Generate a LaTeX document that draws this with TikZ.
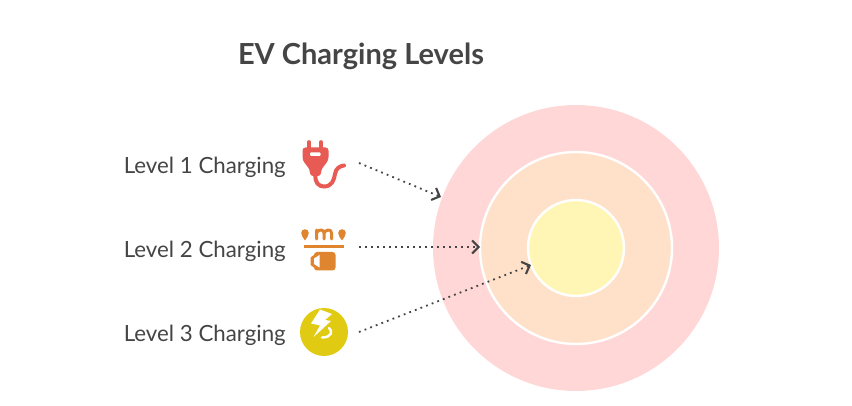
\documentclass[tikz,border=0pt]{standalone}
\usepackage{fontspec}
\setmainfont{Lato}
\usetikzlibrary{arrows.meta}
\definecolor{ink}{HTML}{454545}
\definecolor{ringa}{HTML}{FFD7D7}
\definecolor{ringb}{HTML}{FFE0C9}
\definecolor{ringc}{HTML}{FFF6B6}
\definecolor{plugred}{HTML}{E85A54}
\definecolor{battorange}{HTML}{E0852F}
\definecolor{boltyellow}{HTML}{E0CB12}
\tikzset{
  lvl/.style={anchor=east,inner sep=0pt,text=ink,font=\fontsize{22.3}{26}\selectfont},
  ttl/.style={anchor=center,inner sep=0pt,text=ink,font=\fontsize{29}{34}\selectfont\bfseries},
  ring/.style={circle,draw=white,line width=2.4pt,inner sep=0pt},
  link/.style={draw=ink,line width=1.8pt,dash pattern=on 1.8pt off 4.2pt,
    -{Straight Barb[length=6.5pt,width=13pt,line width=2.1pt]}},
}
\begin{document}
\begin{tikzpicture}[x=1pt,y=-1pt]
\useasboundingbox (0,0) rectangle (852,406);
\fill[white] (0,0) rectangle (852,406);
\node[ttl] (title) at (361,56) {EV Charging Levels};
\node[ring,fill=ringa,draw=none,minimum size=286pt] (outer) at (576,248) {};
\node[ring,fill=ringb,minimum size=192pt] (middle) at (576,248) {};
\node[ring,fill=ringc,minimum size=96pt] (inner) at (576,248) {};
\node[lvl] (l1) at (286,167) {Level 1 Charging};
\node[lvl] (l2) at (286,251) {Level 2 Charging};
\node[lvl] (l3) at (286,335) {Level 3 Charging};
% plug icon
\draw[plugred,line width=3.6pt,line cap=round] (309,142)--(309,150) (321,142)--(321,150);
\fill[plugred,rounded corners=3pt] (302.5,147.5)--(328.5,147.5)--(328.5,160)--(321,170)--(321,176)--(310,176)--(310,170)--(302.5,160)--cycle;
\fill[white,rounded corners=0.8pt] (310,152.5) rectangle (320.5,155.8);
\draw[plugred,line width=4pt,line cap=round] (315.5,174) .. controls (314.5,183) and (319,186.5) .. (324,186.5) .. controls (332,186.5) and (334,180) .. (335,174) .. controls (336,168) and (340,166) .. (344,165.5);
% battery icon
\fill[battorange] (305,240.5) .. controls (303.5,237.5) and (301.2,236.5) .. (301.2,233) arc[start angle=180,end angle=360,radius=3.8] .. controls (308.8,236.5) and (306.5,237.5) .. (305,240.5) -- cycle;
\fill[battorange] (342,240.5) .. controls (340.5,237.5) and (338.2,236.5) .. (338.2,233) arc[start angle=180,end angle=360,radius=3.8] .. controls (345.8,236.5) and (343.5,237.5) .. (342,240.5) -- cycle;
\draw[battorange,line width=3pt,line cap=round,line join=round] (316.5,239)--(316.5,230) (316.5,233) .. controls (318,229) and (324,229) .. (324,233)--(324,239) (324,233) .. controls (326,229) and (331.5,229) .. (331.5,233)--(331.5,239);
\draw[battorange,line width=3pt] (303.5,247)--(343.5,247);
\fill[battorange,rounded corners=3pt] (314,252) rectangle (335.5,270.5);
\fill[battorange] (310.5,257.5)--(316,253.5)--(316,269)--(310.5,265)--cycle;
\fill[white] (314,258.5)--(319.5,255)--(319.5,267.5)--(314,264)--cycle;
% bolt icon
\fill[boltyellow] (324,332) circle (24);
\fill[white] (320,309.5)--(332,314)--(325,320)--(331,321)--(313.5,337)--(320,325.5)--(311,323.5)--cycle;
\draw[white,line width=2.4pt,line cap=round] (329,328) .. controls (333,331) and (332,337.5) .. (322,337.5);
% connectors
\coordinate (s1) at (359,163);
\coordinate (e1) at (441,197);
\coordinate (s2) at (359,247);
\coordinate (e2) at (480,247);
\coordinate (s3) at (359,332);
\coordinate (e3) at (531,265);
\draw[link] (s1)--(e1);
\draw[link] (s2)--(e2);
\draw[link] (s3)--(e3);
\end{tikzpicture}
\end{document}
